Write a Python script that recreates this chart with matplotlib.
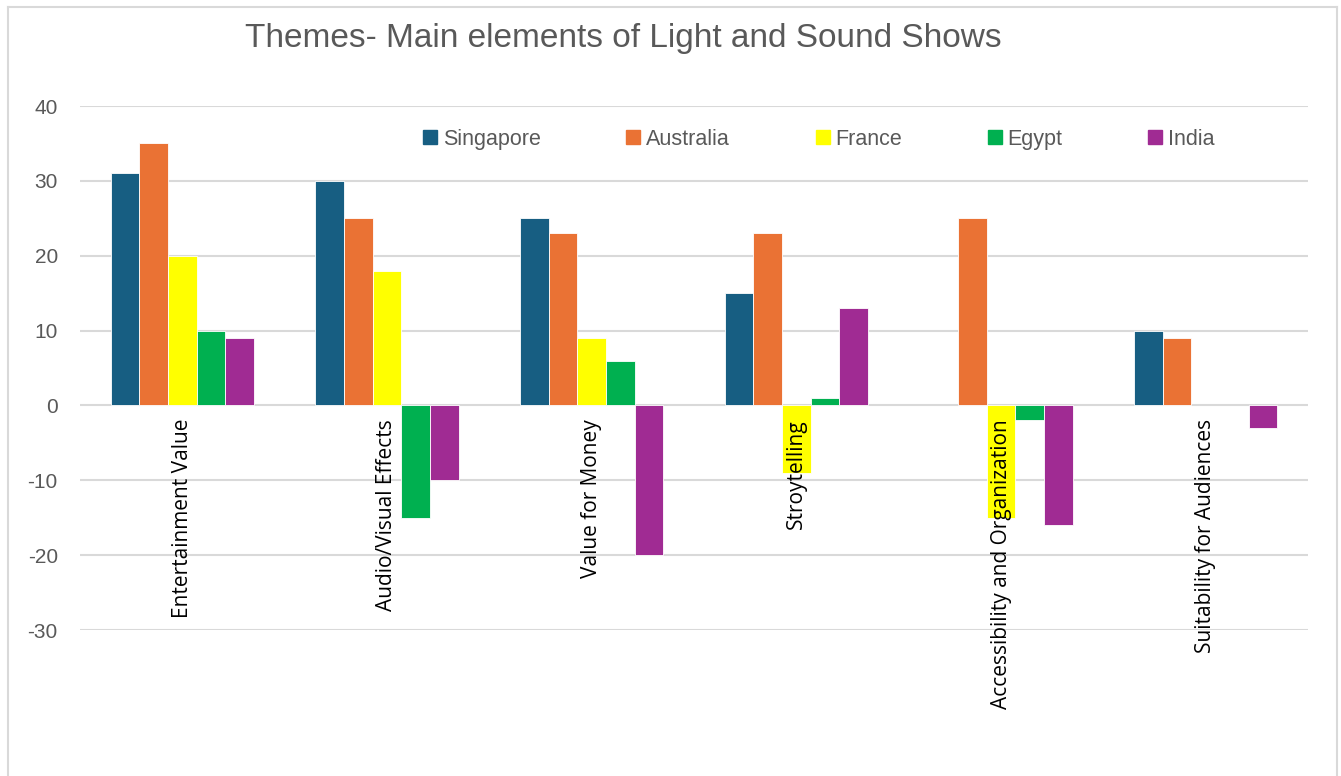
import matplotlib
matplotlib.use("Agg")
import matplotlib.pyplot as plt
from matplotlib.lines import Line2D
import numpy as np

categories = ["Entertainment Value", "Audio/Visual Effects", "Value for Money",
              "Stroytelling", "Accessibility and Organization", "Suitability for Audiences"]
series_names = ["Singapore", "Australia", "France", "Egypt", "India"]
singapore = [31, 30, 25, 15, 0, 10]
australia = [35, 25, 23, 23, 25, 9]
france = [20, 18, 9, -9, -15, 0]
egypt = [10, -15, 6, 1, -2, 0]
india = [9, -10, -20, 13, -16, -3]
y_ticks = [-30, -20, -10, 0, 10, 20, 30, 40]

colors = ["#175e82", "#ea7234", "#ffff00", "#00b050", "#a02b93"]
values = [singapore, australia, france, egypt, india]

W, H = 1341, 776
fig = plt.figure(figsize=(W / 100, H / 100), dpi=100)
ax = fig.add_axes([80 / W, (H - 630) / H, (1308 - 80) / W, (630 - 106) / H])

x = np.arange(len(categories))
bw = 0.14
for k, (name, vals, c) in enumerate(zip(series_names, values, colors)):
    bars = ax.bar(x + (k - 2) * bw, vals, width=bw, color=c, label=name,
                  edgecolor="white", linewidth=0.6, zorder=3)
    for b in bars:
        if b.get_height() == 0:
            b.set_visible(False)

ax.set_xlim(-0.5, len(categories) - 0.5)
ax.set_ylim(-30, 40)
ax.set_yticks(y_ticks)
ax.set_yticklabels([str(v) for v in y_ticks], fontsize=15, color="#595959",
                   family="Liberation Sans")
ax.tick_params(axis="y", length=0, pad=16)
ax.set_xticks([])
for s in ax.spines.values():
    s.set_visible(False)
ax.grid(axis="y", color="#d9d9d9", linewidth=1.5, zorder=0)

for i, cat in enumerate(categories):
    ax.text(i, -1.8, cat, rotation=90, ha="center", va="top", fontsize=15,
            family="Open Sans", color="black", zorder=5)

handles = [Line2D([0], [0], marker="s", linestyle="none", markersize=9.5,
                  markerfacecolor=c, markeredgecolor=c) for c in colors]
leg = ax.legend(handles, series_names, loc="center", bbox_to_anchor=(0.601, 0.937),
                ncol=5, frameon=False, handletextpad=0.2,
                columnspacing=3.9, handlelength=0.8,
                prop={"family": "Liberation Sans", "size": 15.5})
for t in leg.get_texts():
    t.set_color("#595959")

fig.text(623 / W, 1 - 47 / H, "Themes- Main elements of Light and Sound Shows",
         ha="center", va="baseline", fontsize=24, color="#595959",
         family="Liberation Sans")

# chart border
bc = "#d9d9d9"
fig.add_artist(Line2D([8 / W, 8 / W], [0, 1 - 7 / H], color=bc, lw=1.5, transform=fig.transFigure))
fig.add_artist(Line2D([8 / W, 1337 / W], [1 - 7 / H, 1 - 7 / H], color=bc, lw=1.5, transform=fig.transFigure))
fig.add_artist(Line2D([1337 / W, 1337 / W], [0, 1 - 7 / H], color=bc, lw=1.5, transform=fig.transFigure))

fig.savefig("out.png", dpi=100)
